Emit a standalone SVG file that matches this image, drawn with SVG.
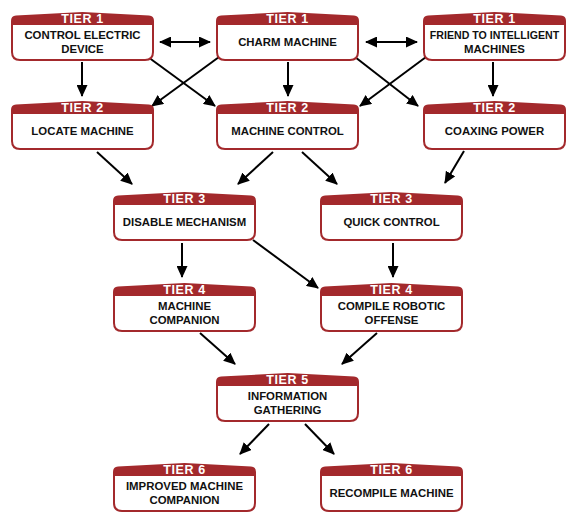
<svg xmlns="http://www.w3.org/2000/svg" xmlns:xlink="http://www.w3.org/1999/xlink" width="577" height="525" viewBox="0 0 577 525">
<style>
.shell{fill:#a3292c}
.body{fill:#ffffff}
.t{font-family:"Liberation Sans",Arial,sans-serif;font-weight:bold;font-size:12.5px;fill:#ffffff;text-anchor:middle;letter-spacing:0.6px}
.n{font-family:"Liberation Sans",Arial,sans-serif;font-weight:bold;font-size:11.4px;fill:#111111;text-anchor:middle}
.c line{stroke:#000;stroke-width:2;fill:none;marker-end:url(#ah)}
</style>
<defs>
<path id="shell" class="shell" d="M0,9 Q0,4 5,3.6 L71.5,0 L138,3.6 Q143,4 143,9 L143,40 Q143,49 134,49 L9,49 Q0,49 0,40 Z"/>
<path id="body" class="body" d="M2,13 L141,13 L141,40 Q141,47 134,47 L9,47 Q2,47 2,40 Z"/>
<marker id="ah" markerUnits="userSpaceOnUse" viewBox="0 0 12 11" markerWidth="12" markerHeight="11" refX="11" refY="5.5" orient="auto-start-reverse">
<path d="M0,0 L12,5.5 L0,11 Z" fill="#000"/>
</marker>
</defs>
<rect width="577" height="525" fill="#ffffff"/>
<g id="connectors" class="c">
<line x1="160" y1="42" x2="210" y2="42" marker-start="url(#ah)"/>
<line x1="366" y1="42" x2="417" y2="42" marker-start="url(#ah)"/>
<line x1="82" y1="62" x2="82" y2="96"/>
<line x1="288" y1="62" x2="288" y2="96"/>
<line x1="493" y1="62" x2="493" y2="96"/>
<line x1="148" y1="57" x2="215" y2="106"/>
<line x1="219" y1="57" x2="152" y2="106"/>
<line x1="355" y1="57" x2="418" y2="106"/>
<line x1="426" y1="57" x2="360" y2="106"/>
<line x1="97" y1="152" x2="132" y2="184"/>
<line x1="273" y1="152" x2="238" y2="184"/>
<line x1="302" y1="152" x2="337" y2="184"/>
<line x1="464" y1="151" x2="445" y2="183"/>
<line x1="182" y1="243" x2="182" y2="277"/>
<line x1="393" y1="243" x2="393" y2="277"/>
<line x1="253" y1="240" x2="318" y2="288"/>
<line x1="200" y1="333" x2="235" y2="364"/>
<line x1="377" y1="333" x2="342" y2="364"/>
<line x1="269" y1="424" x2="240" y2="454"/>
<line x1="305" y1="424" x2="334" y2="454"/>
</g>
<g id="control-electric-device" transform="translate(11,12)">
<use xlink:href="#shell"/><use xlink:href="#body"/>
<text class="t" x="71.5" y="11">TIER 1</text>
<text class="n" x="71.5" y="26.5">CONTROL ELECTRIC</text>
<text class="n" x="71.5" y="40.5">DEVICE</text>
</g>
<g id="charm-machine" transform="translate(216,12)">
<use xlink:href="#shell"/><use xlink:href="#body"/>
<text class="t" x="71.5" y="11">TIER 1</text>
<text class="n" x="71.5" y="34">CHARM MACHINE</text>
</g>
<g id="friend-to-intelligent-machines" transform="translate(423,12)">
<use xlink:href="#shell"/><use xlink:href="#body"/>
<text class="t" x="71.5" y="11">TIER 1</text>
<text class="n" x="71.5" y="26.5" style="font-size:10.6px">FRIEND TO INTELLIGENT</text>
<text class="n" x="71.5" y="40.5">MACHINES</text>
</g>
<g id="locate-machine" transform="translate(11,101)">
<use xlink:href="#shell"/><use xlink:href="#body"/>
<text class="t" x="71.5" y="11">TIER 2</text>
<text class="n" x="71.5" y="34">LOCATE MACHINE</text>
</g>
<g id="machine-control" transform="translate(216,101)">
<use xlink:href="#shell"/><use xlink:href="#body"/>
<text class="t" x="71.5" y="11">TIER 2</text>
<text class="n" x="71.5" y="34">MACHINE CONTROL</text>
</g>
<g id="coaxing-power" transform="translate(423,101)">
<use xlink:href="#shell"/><use xlink:href="#body"/>
<text class="t" x="71.5" y="11">TIER 2</text>
<text class="n" x="71.5" y="34">COAXING POWER</text>
</g>
<g id="disable-mechanism" transform="translate(113,192)">
<use xlink:href="#shell"/><use xlink:href="#body"/>
<text class="t" x="71.5" y="11">TIER 3</text>
<text class="n" x="71.5" y="34">DISABLE MECHANISM</text>
</g>
<g id="quick-control" transform="translate(320,192)">
<use xlink:href="#shell"/><use xlink:href="#body"/>
<text class="t" x="71.5" y="11">TIER 3</text>
<text class="n" x="71.5" y="34">QUICK CONTROL</text>
</g>
<g id="machine-companion" transform="translate(113,283)">
<use xlink:href="#shell"/><use xlink:href="#body"/>
<text class="t" x="71.5" y="11">TIER 4</text>
<text class="n" x="71.5" y="26.5">MACHINE</text>
<text class="n" x="71.5" y="40.5">COMPANION</text>
</g>
<g id="compile-robotic-offense" transform="translate(320,283)">
<use xlink:href="#shell"/><use xlink:href="#body"/>
<text class="t" x="71.5" y="11">TIER 4</text>
<text class="n" x="71.5" y="26.5">COMPILE ROBOTIC</text>
<text class="n" x="71.5" y="40.5">OFFENSE</text>
</g>
<g id="information-gathering" transform="translate(216,373)">
<use xlink:href="#shell"/><use xlink:href="#body"/>
<text class="t" x="71.5" y="11">TIER 5</text>
<text class="n" x="71.5" y="26.5">INFORMATION</text>
<text class="n" x="71.5" y="40.5">GATHERING</text>
</g>
<g id="improved-machine-companion" transform="translate(113,463)">
<use xlink:href="#shell"/><use xlink:href="#body"/>
<text class="t" x="71.5" y="11">TIER 6</text>
<text class="n" x="71.5" y="26.5">IMPROVED MACHINE</text>
<text class="n" x="71.5" y="40.5">COMPANION</text>
</g>
<g id="recompile-machine" transform="translate(320,463)">
<use xlink:href="#shell"/><use xlink:href="#body"/>
<text class="t" x="71.5" y="11">TIER 6</text>
<text class="n" x="71.5" y="34">RECOMPILE MACHINE</text>
</g>
</svg>
